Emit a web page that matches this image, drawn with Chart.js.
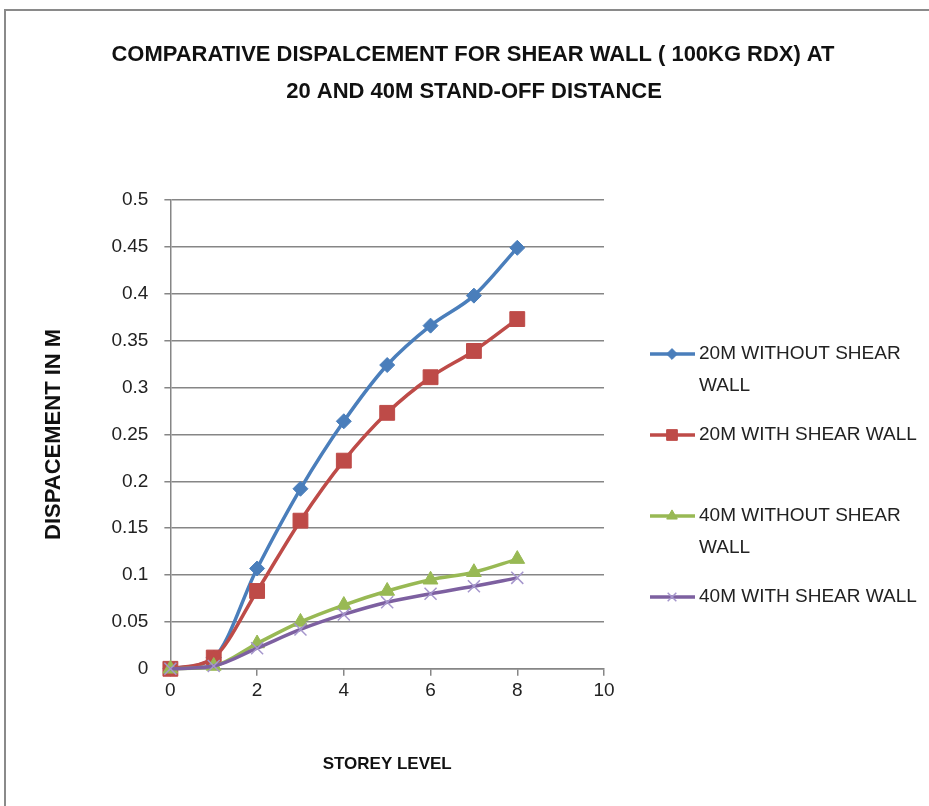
<!DOCTYPE html>
<html>
<head>
<meta charset="utf-8">
<script src="https://cdn.jsdelivr.net/npm/chart.js@4/dist/chart.umd.min.js"></script>
<style>
  body { margin: 0; background: #fff; }
  #wrap { position: relative; width: 929px; height: 806px; }
</style>
</head>
<body>
<div id="wrap"><canvas id="dispChart" width="929" height="806"></canvas></div>
<script>
// storey levels on the x axis
var storeys = [0, 1, 2, 3, 4, 5, 6, 7, 8];

// displacement in m
var disp20NoWall = [0, 0.012, 0.107, 0.192, 0.264, 0.324, 0.366, 0.398, 0.449];
var disp20Wall   = [0, 0.012, 0.083, 0.158, 0.222, 0.273, 0.311, 0.339, 0.373];
var disp40NoWall = [0, 0.003, 0.027, 0.050, 0.068, 0.083, 0.095, 0.103, 0.117];
var disp40Wall   = [0, 0.003, 0.022, 0.042, 0.058, 0.071, 0.080, 0.088, 0.097];

var seriesNames = ['20M WITHOUT SHEAR WALL', '20M WITH SHEAR WALL', '40M WITHOUT SHEAR WALL', '40M WITH SHEAR WALL'];
var titleLines = ['COMPARATIVE DISPALCEMENT FOR SHEAR WALL ( 100KG RDX) AT', '20 AND 40M STAND-OFF DISTANCE'];

var fontFam = "'Liberation Sans', Arial, sans-serif";

function toPoints(ys) {
    return storeys.map(function (x, i) { return { x: x, y: ys[i] }; });
}

function makeSet(name, ys, color, style, r, order) {
    return {
        label: name,
        data: toPoints(ys),
        borderColor: color,
        backgroundColor: color,
        borderWidth: 3.5,
        pointStyle: style,
        pointRadius: r,
        pointBorderWidth: style === 'crossRot' ? 1.5 : 1,
        pointBorderColor: style === 'crossRot' ? '#a596cc' : color,
        cubicInterpolationMode: 'monotone',
        clip: false,
        order: order,
        fill: false
    };
}

// frame round the whole chart and the two-line title
var framePlugin = {
    id: 'frame',
    beforeDraw: function (chart) {
        var ctx = chart.ctx;
        ctx.save();
        ctx.strokeStyle = '#8a8a8a';
        ctx.lineWidth = 2;
        ctx.strokeRect(5, 10, 1000, 900);
        ctx.fillStyle = '#111';
        ctx.font = 'bold 22px ' + fontFam;
        ctx.textAlign = 'center';
        ctx.textBaseline = 'middle';
        ctx.fillText(titleLines[0], 473, 55, 723);
        ctx.fillText(titleLines[1], 474, 92, 723);
        ctx.restore();
    }
};

// legend drawn on the right, text wrapped like the original
var sideLegend = {
    id: 'sideLegend',
    afterDraw: function (chart) {
        var ctx = chart.ctx;
        var H = Chart.helpers;
        ctx.save();
        ctx.font = '19px ' + fontFam;
        ctx.textBaseline = 'middle';
        ctx.textAlign = 'left';
        chart.data.datasets.forEach(function (ds, i) {
            var y = 354 + i * 81;
            ctx.strokeStyle = ds.borderColor;
            ctx.lineWidth = 3.5;
            ctx.beginPath();
            ctx.moveTo(650, y);
            ctx.lineTo(695, y);
            ctx.stroke();
            ctx.fillStyle = ds.backgroundColor;
            ctx.strokeStyle = ds.pointBorderColor;
            ctx.lineWidth = ds.pointBorderWidth;
            if (H && H.drawPoint) {
                H.drawPoint(ctx, { pointStyle: ds.pointStyle, radius: ds.pointRadius * 0.72, rotation: 0, borderWidth: ds.pointBorderWidth }, 672, y);
            }
            var words = ds.label.split(' ');
            var lines = [];
            var cur = '';
            words.forEach(function (w) {
                var t = cur ? cur + ' ' + w : w;
                if (ctx.measureText(t).width > 225 && cur) {
                    lines.push(cur);
                    cur = w;
                } else {
                    cur = t;
                }
            });
            lines.push(cur);
            ctx.fillStyle = '#222';
            lines.forEach(function (ln, k) {
                ctx.fillText(ln, 699, y + k * 32);
            });
        });
        ctx.restore();
    }
};

var ctx = document.getElementById('dispChart').getContext('2d');
var dispChart = new Chart(ctx, {
    type: 'line',
    data: {
        datasets: [
            makeSet(seriesNames[0], disp20NoWall, '#4a7ebb', 'rectRot', 7.5, 3),
            makeSet(seriesNames[1], disp20Wall, '#be4b48', 'rect', 10.5, 2),
            makeSet(seriesNames[2], disp40NoWall, '#98b954', 'triangle', 8.5, 1),
            makeSet(seriesNames[3], disp40Wall, '#7d60a0', 'crossRot', 8.5, 0)
        ]
    },
    plugins: [framePlugin, sideLegend],
    options: {
        responsive: false,
        animation: false,
        layout: { padding: { left: 41, right: 325, top: 200, bottom: 31 } },
        plugins: {
            legend: { display: false },
            tooltip: { enabled: false },
            title: { display: false }
        },
        scales: {
            x: {
                type: 'linear',
                min: 0,
                max: 10,
                ticks: { stepSize: 2, color: '#222', font: { family: fontFam, size: 19 }, padding: 4 },
                grid: { drawOnChartArea: false, color: '#868686', lineWidth: 1.5, tickLength: 7 },
                border: { color: '#868686', width: 1.5 },
                title: {
                    display: true,
                    text: 'STOREY LEVEL',
                    color: '#111',
                    font: { family: fontFam, size: 17, weight: 'bold' },
                    padding: { top: 48, bottom: 0 }
                }
            },
            y: {
                min: 0,
                max: 0.5,
                ticks: {
                    stepSize: 0.05,
                    color: '#222',
                    font: { family: fontFam, size: 19 },
                    padding: 16,
                    callback: function (v) { return String(+v.toFixed(2)); }
                },
                grid: { color: '#868686', lineWidth: 1.5, tickLength: 6 },
                border: { color: '#868686', width: 1.5 },
                title: {
                    display: true,
                    text: 'DISPACEMENT IN M',
                    color: '#111',
                    font: { family: fontFam, size: 22, weight: 'bold' },
                    padding: { top: 0, bottom: 28 }
                }
            }
        }
    }
});
</script>
</body>
</html>
